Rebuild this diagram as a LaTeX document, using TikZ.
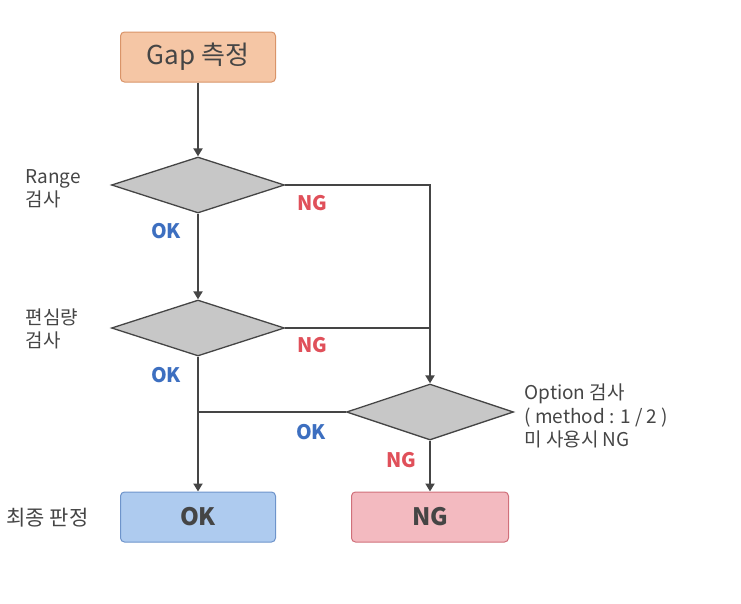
\documentclass[tikz,border=0pt]{standalone}
\usepackage{fontspec}
\setmainfont{Noto Sans CJK KR}
\usetikzlibrary{shapes.geometric,arrows.meta}
\definecolor{txtgray}{HTML}{454545}
\definecolor{okblue}{HTML}{3D6FC0}
\definecolor{ngred}{HTML}{E0505A}
\definecolor{gapfill}{HTML}{F5C6A5}
\definecolor{gapline}{HTML}{D99469}
\definecolor{okfill}{HTML}{AECBEF}
\definecolor{okline}{HTML}{6E94CB}
\definecolor{ngfill}{HTML}{F3BAC0}
\definecolor{ngline}{HTML}{D0707A}
\tikzset{
  box/.style={rectangle, rounded corners=4pt, line width=1pt, minimum width=155pt, minimum height=50pt, text=txtgray},
  test/.style={diamond, draw=txtgray, line width=1.3pt, fill=black!22, minimum width=173pt, minimum height=56pt, inner sep=0pt},
  flow/.style={draw=txtgray, line width=2.6pt, -{Triangle[length=8pt,width=9pt]}},
  merge/.style={draw=txtgray, line width=2.6pt},
  side/.style={text=txtgray, font=\fontsize{19}{23.5}\selectfont, align=left},
  oklab/.style={text=okblue, font=\fontsize{20}{22}\selectfont\bfseries},
  nglab/.style={text=ngred, font=\fontsize{20}{22}\selectfont\bfseries}
}
\begin{document}
\begin{tikzpicture}[x=1pt,y=-1pt]
\useasboundingbox (0,0) rectangle (741,603);
% blocks
\node [box, draw=gapline, fill=gapfill, font=\fontsize{26}{30}\selectfont] (gap) at (198,57) {Gap 측정};
\node [test] (range) at (198,185) {};
\node [test] (ecc) at (198,328) {};
\node [test, minimum width=167pt] (option) at (430,412) {};
\node [box, draw=okline, fill=okfill, font=\fontsize{24}{28}\selectfont\bfseries] (ok) at (198,517) {OK};
\node [box, draw=ngline, fill=ngfill, minimum width=157pt, font=\fontsize{24}{28}\selectfont\bfseries] (ng) at (430,517) {NG};
% side texts
\node [side, anchor=west] (rangetxt) at (22,189) {Range\\검사};
\node [side, anchor=west] (ecctxt) at (22,329) {편심량\\검사};
\node [side, anchor=west] (opttxt) at (521,416) {Option 검사\\( method : 1 / 2 )\\미 사용시 NG};
\node [side, anchor=west, font=\fontsize{21}{23}\selectfont] (finaltxt) at (3,518) {최종 판정};
% connectors
\draw [flow] (gap) -- (range);
\draw [flow] (range) -- (ecc);
\draw [flow] (ecc) -- (ok);
\draw [flow] (range.east) -| (option.north);
\draw [merge] (ecc.east) -- (ecc.east -| option.north);
\draw [merge] (option.west) -- (option.west -| ok.north);
\draw [flow] (option) -- (ng);
% branch labels
\node [nglab] (ng1) at (312,203) {NG};
\node [oklab] (ok1) at (166,231) {OK};
\node [nglab] (ng2) at (312,345) {NG};
\node [oklab] (ok2) at (166,375) {OK};
\node [oklab] (ok3) at (311,432) {OK};
\node [nglab] (ng3) at (401,460) {NG};
\end{tikzpicture}
\end{document}
